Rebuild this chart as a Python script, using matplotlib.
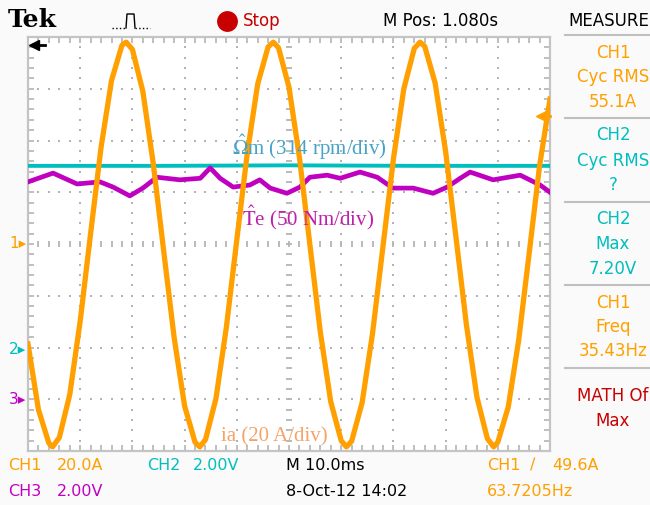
#oscilloscope screenshot: stator current, speed and torque of a motor drive

import matplotlib.pyplot as plt
from matplotlib.lines import Line2D
import numpy as np

plt.rcParams['mathtext.fontset'] = 'stix'

#screen values, in divisions (10 x 8 grid, 0 at the centre line)
ia_t = [0.0, 0.2, 0.4, 0.47, 0.6, 0.8, 1.0, 1.2, 1.4, 1.6, 1.8, 1.88,
        2.0, 2.2, 2.4, 2.6, 2.8, 3.0, 3.2, 3.29, 3.4, 3.6, 3.8,
        4.0, 4.2, 4.4, 4.6, 4.70, 4.8, 5.0, 5.2, 5.4, 5.6, 5.8,
        6.0, 6.10, 6.2, 6.4, 6.6, 6.8, 7.0, 7.2, 7.4, 7.51, 7.6, 7.8,
        8.0, 8.2, 8.4, 8.6, 8.8, 8.92, 9.0, 9.2, 9.4, 9.6, 9.8, 10.0]
ia_v = [-1.93, -3.20, -3.85, -3.92, -3.74, -2.91, -1.49, 0.21, 1.87, 3.16, 3.84, 3.90,
        3.76, 2.95, 1.55, -0.14, -1.81, -3.13, -3.83, -3.92, -3.78, -2.99, -1.61,
        0.08, 1.75, 3.09, 3.81, 3.90, 3.79, 3.03, 1.67, -0.01, -1.70, -3.05,
        -3.80, -3.92, -3.81, -3.07, -1.73, -0.05, 1.64, 3.00, 3.78, 3.90, 3.82, 3.11,
        1.79, 0.12, -1.57, -2.96, -3.76, -3.92, -3.83, -3.15, -1.86, -0.19, 1.51, 2.80]

te_t = [0.00, 0.48, 0.94, 1.38, 1.63, 1.95, 2.20, 2.47, 2.91, 3.30, 3.49,
        3.68, 3.93, 4.25, 4.44, 4.64, 4.96, 5.21, 5.40, 5.73, 5.98, 6.36,
        6.69, 6.99, 7.38, 7.76, 8.03, 8.28, 8.47, 8.91, 9.43, 9.81, 10.0]
te_v = [1.20, 1.37, 1.16, 1.20, 1.10, 0.93, 1.08, 1.29, 1.24, 1.27, 1.47,
        1.27, 1.10, 1.14, 1.24, 1.08, 0.98, 1.10, 1.29, 1.33, 1.27, 1.39,
        1.29, 1.08, 1.08, 0.98, 1.10, 1.27, 1.39, 1.24, 1.33, 1.14, 1.00]

om_t = [0.0, 2.5, 5.0, 7.5, 10.0]
om_v = [1.51, 1.51, 1.52, 1.51, 1.51]

#right hand measure panel: (text, colour, y pixel)
measure = [("CH1", "orange", 53), ("Cyc RMS", "orange", 77), ("55.1A", "orange", 102),
           ("CH2", "cyan", 135), ("Cyc RMS", "cyan", 161), ("?", "cyan", 185),
           ("CH2", "cyan", 219), ("Max", "cyan", 244), ("7.20V", "cyan", 269),
           ("CH1", "orange", 303), ("Freq", "orange", 327), ("35.43Hz", "orange", 351),
           ("MATH Of", "red", 396), ("Max", "red", 421)]

colors = {"orange": "#ffa000", "cyan": "#00bebe", "magenta": "#c000c0",
          "red": "#c80000", "black": "black"}


#pixel -> figure fraction
def fx(x):
    return x / 650

def fy(y):
    return 1 - y / 505


def main():
    fig = plt.figure(figsize=(6.5, 5.05), dpi=100)
    fig.patch.set_facecolor("#fafafa")
    ax = fig.add_axes([fx(28), fy(451), 522 / 650, 414 / 505])
    ax.set_facecolor("white")
    ax.set_xlim(0, 10)
    ax.set_ylim(-4, 4)

    #graticule
    fine = np.arange(0, 10.01, 0.2)
    fine_y = np.arange(-4, 4.01, 0.2)
    for i in range(1, 10):
        if i != 5:
            ax.plot([i] * len(fine_y), fine_y, ls="none", marker="s", ms=1.6,
                    mew=0, color="#b4b4b4", zorder=1)
    for j in range(-3, 4):
        if j != 0:
            ax.plot(fine, [j] * len(fine), ls="none", marker="s", ms=1.6,
                    mew=0, color="#b4b4b4", zorder=1)
    ax.plot(fine, [0] * len(fine), ls="none", marker="|", ms=5, mew=1.3,
            color="#b4b4b4", zorder=1)
    ax.plot([5] * len(fine_y), fine_y, ls="none", marker="_", ms=5, mew=1.3,
            color="#b4b4b4", zorder=1)

    ax.set_xticks(fine)
    ax.set_yticks(fine_y)
    ax.tick_params(direction="in", length=4, width=1.2, color="#b4b4b4",
                   top=True, right=True, labelbottom=False, labelleft=False)
    for s in ax.spines.values():
        s.set_color("#c4c4c4")
        s.set_linewidth(1.6)

    #traces
    ax.plot(om_t, om_v, color=colors["cyan"], lw=2.8, zorder=3)
    ax.plot(te_t, te_v, color=colors["magenta"], lw=3.4, zorder=3)
    ax.plot(ia_t, ia_v, color=colors["orange"], lw=3.8, zorder=4)

    #labels on the screen
    ax.text((232 - 28) / 52.2, (244 - 147) / 51.8,
            r"$\hat{\Omega}$m (314 rpm/div)", color="#45a2c8", fontsize=15,
            family="Liberation Serif", va="center", ha="left", zorder=5)
    ax.text((242 - 28) / 52.2, (244 - 218) / 51.8,
            r"$\hat{\mathrm{T}}$e (50 Nm/div)", color="#c020a8", fontsize=15,
            family="Liberation Serif", va="center", ha="left", zorder=5)
    ax.text((221 - 28) / 52.2, (244 - 437) / 51.8,
            "ia (20 A/div)", color="#f4a468", fontsize=15,
            family="Liberation Serif", va="center", ha="left", zorder=5)

    #trigger level marker and position marker
    ax.plot([9.82], [2.47], marker="<", ms=7, color=colors["orange"], clip_on=False, zorder=6)
    ax.plot([9.82, 10.0], [2.47, 2.47], color=colors["orange"], lw=2, clip_on=False, zorder=6)
    ax.plot([0.12], [3.85], marker="<", ms=7, color="black", clip_on=False, zorder=6)
    ax.plot([0.12, 0.32], [3.85, 3.85], color="black", lw=2, clip_on=False, zorder=6)

    #channel ground markers
    for name, col, y in [("1", "orange", 243), ("2", "cyan", 350), ("3", "magenta", 400)]:
        fig.text(fx(9), fy(y), name + "\u25B8", color=colors[col], fontsize=11,
                 va="center", ha="left")

    #top status bar
    fig.text(fx(8), fy(20), "Tek", fontsize=18, weight="bold", family="DejaVu Serif",
             va="center", ha="left")
    fig.add_artist(Line2D([fx(112), fx(126)], [fy(28), fy(28)], color="black",
                          lw=1, ls=":"))
    fig.add_artist(Line2D([fx(126), fx(127), fx(134), fx(135)],
                          [fy(28), fy(14), fy(14), fy(28)], color="black", lw=1))
    fig.add_artist(Line2D([fx(135), fx(150)], [fy(28), fy(28)], color="black",
                          lw=1, ls=":"))
    fig.add_artist(Line2D([fx(227)], [fy(21)], marker="o", ms=15, mew=0,
                          color=colors["red"]))
    fig.text(fx(243), fy(21), "Stop", color=colors["red"], fontsize=12,
             va="center", ha="left")
    fig.text(fx(383), fy(21), "M Pos: 1.080s", fontsize=12, va="center", ha="left")
    fig.text(fx(568), fy(21), "MEASURE", fontsize=12, va="center", ha="left")

    #measure panel
    for y in [35, 118, 202, 285, 368]:
        fig.add_artist(Line2D([fx(565), fx(650)], [fy(y), fy(y)], color="#c0c0c0", lw=1.5))
    for text, col, y in measure:
        fig.text(fx(613), fy(y), text, color=colors[col], fontsize=12,
                 va="center", ha="center")

    #bottom status lines
    bottom = [("CH1", "orange", 8, 465), ("20.0A", "orange", 57, 465),
              ("CH2", "cyan", 147, 465), ("2.00V", "cyan", 193, 465),
              ("M 10.0ms", "black", 286, 465), ("CH1", "orange", 487, 465),
              ("\u2215", "orange", 530, 465), ("49.6A", "orange", 552, 465),
              ("CH3", "magenta", 8, 491), ("2.00V", "magenta", 57, 491),
              ("8-Oct-12 14:02", "black", 286, 491), ("63.7205Hz", "orange", 487, 491)]
    for text, col, x, y in bottom:
        fig.text(fx(x), fy(y), text, color=colors[col], fontsize=11.5,
                 va="center", ha="left")

    fig.savefig("out.png", dpi=100, facecolor=fig.get_facecolor())


if __name__ == "__main__":
    main()
